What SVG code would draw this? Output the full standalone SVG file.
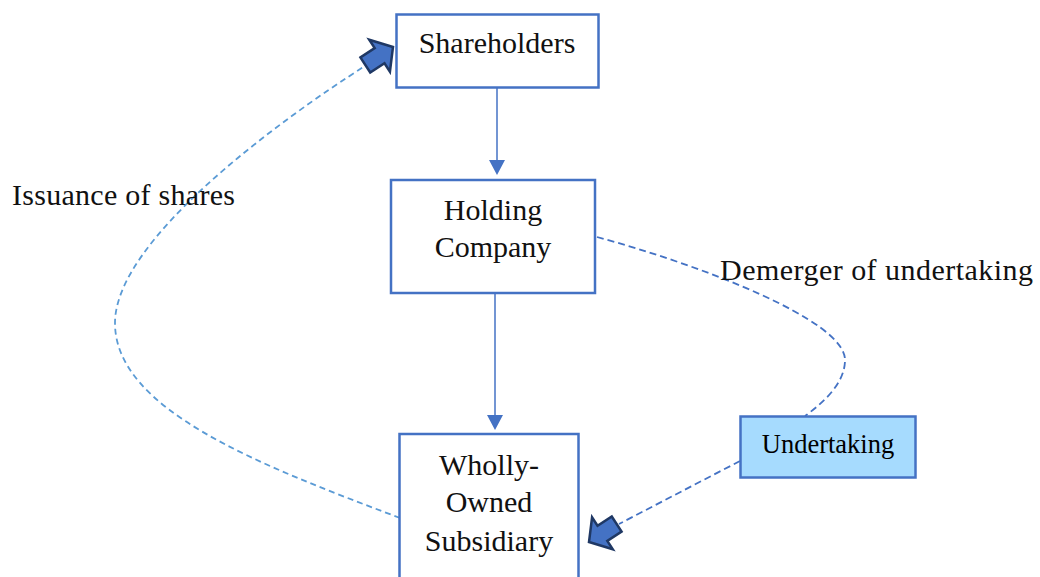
<svg xmlns="http://www.w3.org/2000/svg" width="1040" height="577" viewBox="0 0 1040 577">
<style>
.box{fill:#fff;stroke:#4472C4;stroke-width:2.5}
.und{fill:#A6DBFE;stroke:#4472C4;stroke-width:2.5}
.t{font-family:"Liberation Serif","Times New Roman",serif;font-size:30px;fill:#111;text-anchor:middle}
.lbl{font-family:"Liberation Serif","Times New Roman",serif;font-size:30px;fill:#111}
.ut{font-family:"Liberation Serif","Times New Roman",serif;font-size:26.5px;fill:#000;text-anchor:middle}
.solid{stroke:#4472C4;stroke-width:1.5;fill:none}
.head{fill:#4472C4}
.dash1{stroke:#5B9BD5;stroke-width:1.8;fill:none;stroke-dasharray:6 4}
.dash2{stroke:#4472C4;stroke-width:1.8;fill:none;stroke-dasharray:7 4}
.block{fill:#4472C4;stroke:#1F3864;stroke-width:2.5;stroke-linejoin:miter}
</style>
<defs>
<path id="blk" d="M0,0 L-16,-19 L-16,-9 L-33,-9 L-33,9 L-16,9 L-16,19 Z"/>
</defs>
<rect width="1040" height="577" fill="#fff"/>
<g id="connectors">
<line class="solid" x1="497" y1="88" x2="497" y2="161"/>
<polygon class="head" points="489,160 505,160 497,175"/>
<line class="solid" x1="495" y1="294" x2="495" y2="416"/>
<polygon class="head" points="487,415 503,415 495,430"/>
<path class="dash1" d="M400,518 C260,465 115,410 115,323 C115,240 280,120 365,66"/>
<path class="dash2" d="M597,237 C700,265 845,320 845,360 C845,385 820,405 805,416"/>
<path class="dash2" d="M740,461 L619,524"/>
<use href="#blk" class="block" transform="translate(393,47) rotate(-33)"/>
<use href="#blk" class="block" transform="translate(589,542) rotate(147)"/>
<text class="lbl" x="12" y="205" textLength="223">Issuance of shares</text>
<text class="lbl" x="720" y="280" textLength="313">Demerger of undertaking</text>
</g>
<g id="shareholders">
<rect class="box" x="396.5" y="14.5" width="202" height="73"/>
<text class="t" x="497" y="53">Shareholders</text>
</g>
<g id="holding">
<rect class="box" x="391" y="180" width="204" height="113"/>
<text class="t" x="493" y="220">Holding</text>
<text class="t" x="493" y="257">Company</text>
</g>
<g id="subsidiary">
<rect class="box" x="399.5" y="434" width="179" height="170"/>
<text class="t" x="489" y="475">Wholly-</text>
<text class="t" x="489" y="512">Owned</text>
<text class="t" x="489" y="551">Subsidiary</text>
</g>
<g id="undertaking">
<rect class="und" x="740.5" y="416.5" width="175" height="61"/>
<text class="ut" x="828" y="453">Undertaking</text>
</g>
</svg>
